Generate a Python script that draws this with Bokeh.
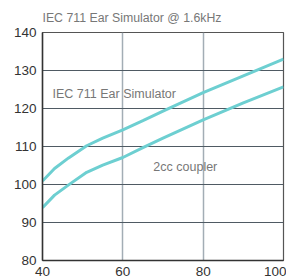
from bokeh.plotting import figure
from bokeh.models import Label, Range1d, FixedTicker
from bokeh.embed import file_html
from bokeh.resources import INLINE

# Data
x_vals = [40, 43, 46.5, 51, 55, 60, 65, 70, 80, 90, 100]
ear_sim = [100.9, 104.2, 107.0, 110.2, 112.2, 114.4, 116.8, 119.3, 124.2, 128.6, 133.0]
coupler = [93.9, 97.2, 99.9, 103.2, 105.1, 107.1, 109.7, 112.2, 117.0, 121.5, 125.7]
x_ticks = [40, 60, 80, 100]
y_ticks = [80, 90, 100, 110, 120, 130, 140]
title_text = "IEC 711 Ear Simulator @ 1.6kHz"
label_upper = "IEC 711 Ear Simulator"
label_lower = "2cc coupler"

FONT = "Liberation Sans"
LINE = "#6dcfd1"

p = figure(width=286, height=280, output_backend="svg", toolbar_location=None,
           x_range=Range1d(40, 100), y_range=Range1d(80, 140),
           min_border_left=42, min_border_right=3, min_border_bottom=20,
           min_border_top=32)
p.title.text = title_text
p.title.text_font = FONT
p.title.text_font_size = "12.3px"
p.title.text_font_style = "normal"
p.title.text_color = "#777777"
p.title.offset = 0
p.title.standoff = 15

p.line(x_vals, ear_sim, color=LINE, line_width=3)
p.line(x_vals, coupler, color=LINE, line_width=3)

p.add_layout(Label(x=42.5, y=123.7, text=label_upper, text_font=FONT, text_font_size="12.5px",
                   text_color="#777777", text_baseline="middle"))
p.add_layout(Label(x=67.6, y=104.7, text=label_lower, text_font=FONT, text_font_size="12.5px",
                   text_color="#777777", text_baseline="middle"))

for ax in (p.xaxis[0], p.yaxis[0]):
    ax.major_label_text_font = FONT
    ax.major_label_text_font_size = "13.5px"
    ax.major_label_text_color = "#333333"
    ax.major_tick_out = 0
    ax.major_tick_in = 0
    ax.minor_tick_out = 0
    ax.minor_tick_in = 0
    ax.axis_line_color = "#333333"
    ax.axis_line_width = 1.5
    ax.major_label_standoff = 6
p.xaxis.ticker = FixedTicker(ticks=x_ticks)
p.yaxis.ticker = FixedTicker(ticks=y_ticks)

p.xgrid.grid_line_color = "#a3adb5"
p.xgrid.grid_line_width = 1.5
p.xgrid.ticker = FixedTicker(ticks=x_ticks)
p.ygrid.grid_line_color = "#4f5a63"
p.ygrid.grid_line_width = 1
p.ygrid.ticker = FixedTicker(ticks=y_ticks)

p.outline_line_color = "#555555"
p.outline_line_width = 1.2
p.background_fill_color = "white"
p.border_fill_color = "white"

open("out.html", "w").write(file_html(p, INLINE))
